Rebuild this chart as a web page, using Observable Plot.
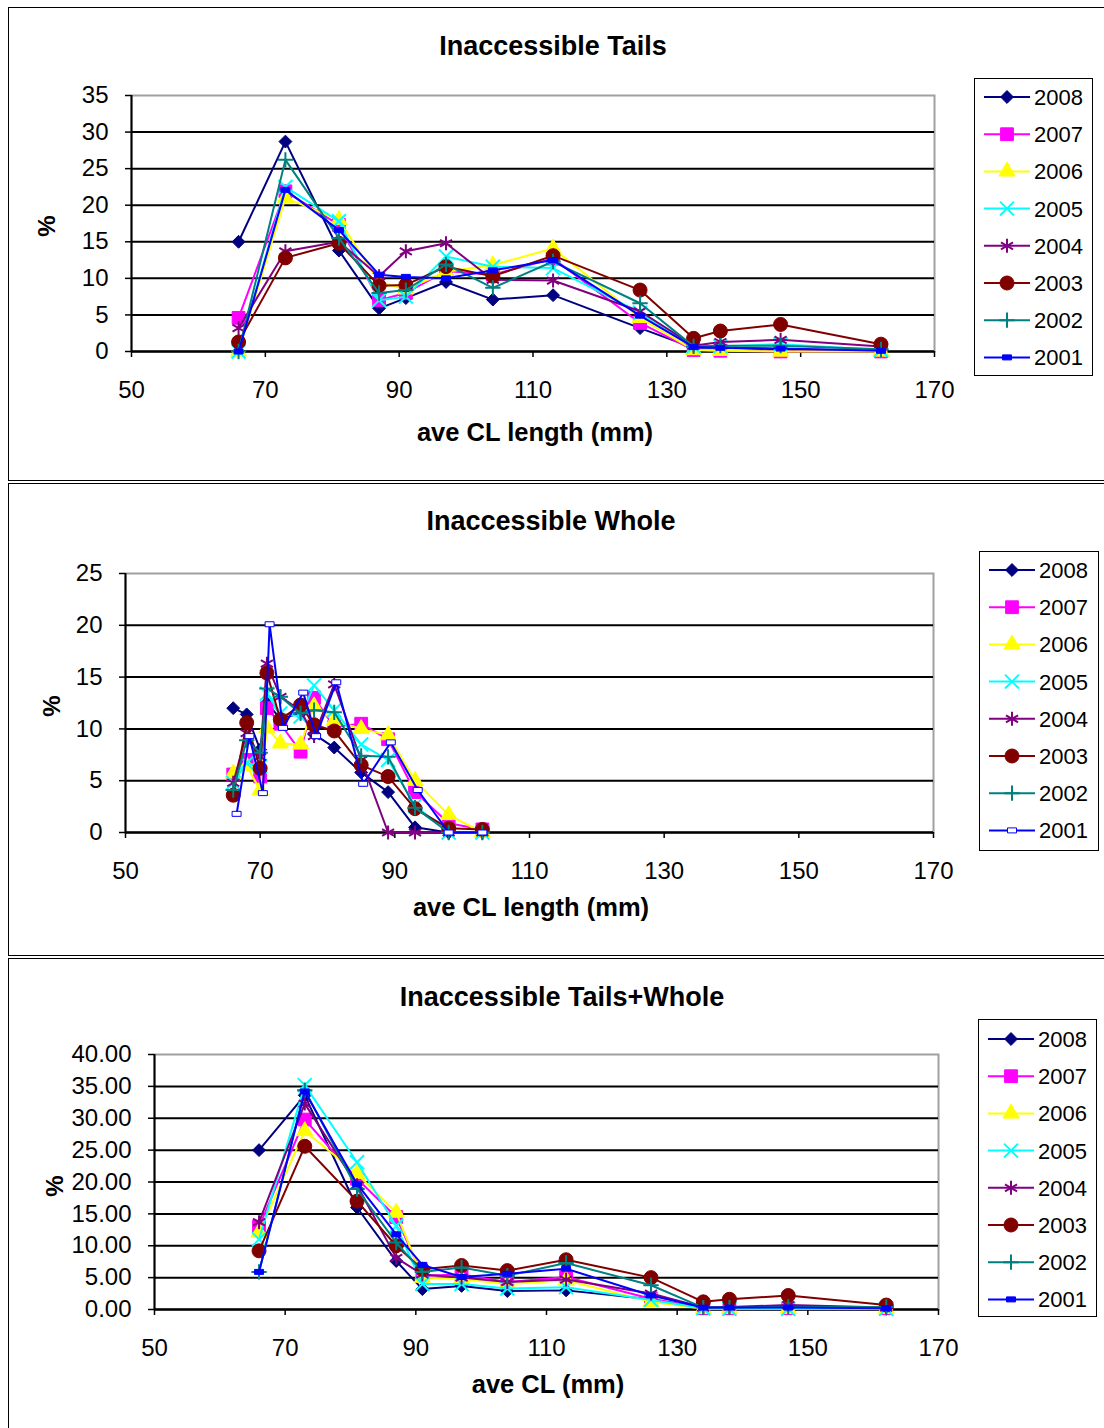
<!DOCTYPE html>
<html>
<head>
<meta charset="utf-8">
<script src="https://cdn.jsdelivr.net/npm/d3@7"></script>
<script src="https://cdn.jsdelivr.net/npm/@observablehq/plot@0.6"></script>
<style>
  body { margin: 0; background: #fff; font-family: "Liberation Sans", Arial, sans-serif; color: #000; }
  #page { position: relative; width: 1104px; height: 1428px; overflow: hidden; background: #fff; }
  .panel { position: absolute; left: 8px; width: 1110px; border: 1.5px solid #000; box-sizing: border-box; }
  .txt { position: absolute; white-space: nowrap; line-height: 1; transform: translate(-50%, -50%); font-weight: bold; }
  .title { font-size: 27px; }
  .xlab { font-size: 25.5px; }
  .ylab { font-size: 24px; transform: translate(-50%, -50%) rotate(-90deg); }
  .plot { position: absolute; left: 0; }
  .legend { position: absolute; border: 1.5px solid #000; background: #fff; box-sizing: border-box; }
</style>
</head>
<body>
<div id="page"></div>
<script>
// ---------------- data ----------------
const years = ["2008", "2007", "2006", "2005", "2004", "2003", "2002", "2001"];
const colors = ["#000080", "#FF00FF", "#FFFF00", "#00FFFF", "#800080", "#800000", "#008080", "#0000FF"];
const xTicks = [50, 70, 90, 110, 130, 150, 170];

// Panel 1: Inaccessible Tails
const tailsX = [66, 73, 81, 87, 91, 97, 104, 113, 126, 134, 138, 147, 162];
const tails2008 = [15.0, 28.7, 13.8, 5.9, 7.3, 9.5, 7.1, 7.7, 3.2, 0.5, 0.5, 0.3, 0.1];
const tails2007 = [4.6, 21.9, 17.3, 7.0, 8.0, 11.0, 10.5, 12.7, 3.9, 0.2, 0.1, 0.0, 0.0];
const tails2006 = [0.0, 21.0, 18.0, 9.5, 8.5, 10.9, 11.8, 14.1, 4.6, 0.2, 0.1, 0.0, 0.0];
const tails2005 = [0.0, 22.5, 17.8, 7.0, 7.5, 13.0, 11.6, 11.4, 5.3, 0.7, 0.7, 1.0, 0.2];
const tails2004 = [3.2, 13.7, 15.0, 10.3, 13.7, 14.8, 9.8, 9.7, 5.5, 0.8, 1.3, 1.6, 0.7];
const tails2003 = [1.3, 12.8, 14.8, 9.0, 9.1, 11.6, 10.3, 13.1, 8.4, 1.8, 2.8, 3.7, 1.0];
const tails2002 = [0.0, 26.2, 15.5, 8.0, 8.4, 11.9, 8.7, 12.3, 6.6, 0.7, 0.8, 0.8, 0.3];
const tails2001 = [0.0, 22.1, 16.6, 10.5, 10.2, 10.0, 11.1, 12.5, 4.9, 0.6, 0.5, 0.4, 0.1];

// Panel 2: Inaccessible Whole
const wholeX = [66, 68, 70, 71, 73, 76, 78, 81, 85, 89, 93, 98, 103];
const whole2001X = [66.5, 68.4, 70.4, 71.4, 73.4, 76.4, 78.3, 81.3, 85.3, 89.4, 93.4, 98, 103];
const whole2008 = [12.0, 11.4, 8.0, 12.5, 11.0, 11.5, 9.5, 8.2, 5.8, 3.9, 0.5, 0.0, 0.0];
const whole2007 = [5.6, 7.0, 5.4, 12.0, 10.5, 7.8, 13.0, 10.2, 10.5, 9.0, 3.9, 0.9, 0.3];
const whole2006 = [5.7, 6.4, 4.1, 10.1, 8.6, 8.5, 12.2, 10.8, 10.0, 9.4, 5.0, 1.7, 0.0];
const whole2005 = [4.8, 6.7, 6.4, 13.4, 11.5, 11.2, 14.2, 11.8, 8.5, 7.0, 2.6, 0.0, 0.0];
const whole2004 = [4.8, 9.6, 7.3, 16.3, 13.1, 11.8, 9.3, 14.3, 7.0, 0.0, 0.0, 0.0, 0.0];
const whole2003 = [3.6, 10.6, 6.2, 15.4, 10.9, 12.3, 10.4, 9.8, 6.5, 5.4, 2.3, 0.4, 0.3];
const whole2002 = [4.1, 8.9, 7.7, 13.9, 13.1, 11.5, 11.8, 11.6, 7.4, 7.3, 2.4, 0.0, 0.0];
const whole2001 = [1.8, 9.3, 3.8, 20.1, 10.1, 13.5, 9.3, 14.5, 4.7, 8.7, 4.1, 0.0, 0.0];

// Panel 3: Inaccessible Tails+Whole
const bothX = [66, 73, 81, 87, 91, 97, 104, 113, 126, 134, 138, 147, 162];
const both2008 = [25.0, 33.6, 16.0, 7.6, 3.2, 3.7, 2.9, 3.0, 1.6, 0.2, 0.2, 0.2, 0.1];
const both2007 = [13.0, 29.8, 20.5, 14.5, 5.3, 5.5, 4.3, 5.1, 1.7, 0.2, 0.2, 0.2, 0.2];
const both2006 = [12.1, 28.0, 21.3, 15.2, 5.0, 4.8, 4.0, 4.6, 1.2, 0.1, 0.1, 0.1, 0.1];
const both2005 = [11.0, 35.2, 23.1, 13.1, 4.0, 4.0, 3.3, 3.5, 1.5, 0.2, 0.1, 0.1, 0.1];
const both2004 = [13.7, 32.3, 19.5, 8.1, 5.5, 5.0, 4.3, 4.7, 2.5, 0.3, 0.4, 0.7, 0.3];
const both2003 = [9.2, 25.6, 17.0, 10.0, 6.3, 6.9, 6.1, 7.8, 5.0, 1.2, 1.6, 2.2, 0.7];
const both2002 = [5.9, 34.4, 18.9, 10.5, 5.9, 6.6, 5.3, 7.3, 3.8, 0.3, 0.3, 0.4, 0.4];
const both2001 = [5.9, 34.2, 19.7, 11.8, 7.0, 5.1, 5.6, 6.4, 2.2, 0.3, 0.3, 0.3, 0.2];

// ---------------- symbols ----------------
const smallRect = { draw(ctx) { ctx.moveTo(-4.5, -2.5); ctx.lineTo(4.5, -2.5); ctx.lineTo(4.5, 2.5); ctx.lineTo(-4.5, 2.5); ctx.closePath(); } };
const markerDefs = [
  { symbol: d3.symbolDiamond2, r: 5.8, fill: true },
  { symbol: d3.symbolSquare, r: 7.2, fill: true },
  { symbol: d3.symbolTriangle, r: 6.0, fill: true },
  { symbol: d3.symbolTimes, r: 6.4, fill: false },
  { symbol: d3.symbolAsterisk, r: 6.6, fill: false },
  { symbol: d3.symbolCircle, r: 7.0, fill: true },
  { symbol: d3.symbolPlus, r: 5.0, fill: false },
  { symbol: smallRect, r: 3, fill: true }
];

function buildRows(xs, seriesList, xs2001) {
  const rows = [];
  seriesList.forEach((vals, i) => {
    const xx = (i === 7 && xs2001) ? xs2001 : xs;
    vals.forEach((v, j) => rows.push({ year: years[i], x: xx[j], y: v }));
  });
  return rows;
}

const page = document.getElementById("page");

function addText(cls, text, x, y) {
  const d = document.createElement("div");
  d.className = "txt " + cls;
  d.textContent = text;
  d.style.left = x + "px";
  d.style.top = y + "px";
  page.appendChild(d);
}

function makePanel(cfg) {
  const panel = document.createElement("div");
  panel.className = "panel";
  panel.style.top = cfg.panelTop + "px";
  panel.style.height = cfg.panelHeight + "px";
  page.appendChild(panel);

  const rows = buildRows(cfg.xs, cfg.series, cfg.xs2001);
  const marks = [
    Plot.frame({ stroke: "#a0a0a0", strokeWidth: 2 }),
    Plot.gridY(cfg.yTicks.filter(t => t > 0 && t < cfg.yMax), { stroke: "#000", strokeOpacity: 1, strokeWidth: 2 }),
    Plot.axisX(xTicks, { tickSize: 6, tickPadding: 23, fontSize: 24, stroke: "#000", strokeWidth: 1.5, label: null }),
    Plot.axisY(cfg.yTicks, { tickSize: 6, tickPadding: 17, fontSize: 24, stroke: "#000", strokeWidth: 1.5, tickFormat: cfg.fmt, label: null }),
    Plot.ruleX([50], { stroke: "#000", strokeWidth: 2 }),
    Plot.ruleY([0], { stroke: "#000", strokeWidth: 2.5 })
  ];
  years.forEach((yr, i) => {
    const data = rows.filter(r => r.year === yr);
    const m = markerDefs[i];
    marks.push(Plot.line(data, { x: "x", y: "y", stroke: colors[i], strokeWidth: 2 }));
    let fill = m.fill ? colors[i] : "none";
    if (i === 7 && cfg.hollowRect) fill = "#fff";
    marks.push(Plot.dot(data, { x: "x", y: "y", symbol: m.symbol, r: m.r, fill, stroke: colors[i], strokeWidth: m.fill ? 1 : 2 }));
  });

  const svg = Plot.plot({
    width: 1104,
    height: cfg.height,
    marginLeft: cfg.left,
    marginRight: 1104 - cfg.right,
    marginTop: cfg.top - cfg.svgTop,
    marginBottom: cfg.svgTop + cfg.height - cfg.bottom,
    x: { domain: [50, 170] },
    y: { domain: [0, cfg.yMax] },
    style: { fontFamily: "'Liberation Sans', Arial, sans-serif", fontSize: "24px", color: "#000", background: "transparent", overflow: "visible" },
    marks
  });
  svg.classList.add("plot");
  svg.style.top = cfg.svgTop + "px";
  page.appendChild(svg);

  addText("title", cfg.title, cfg.titleX, cfg.titleY);
  addText("xlab", cfg.xlabel, cfg.xlabX, cfg.xlabY);
  addText("ylab", "%", cfg.ylabX, cfg.ylabY);

  // legend
  const lg = document.createElement("div");
  lg.className = "legend";
  lg.style.left = cfg.legend.x + "px";
  lg.style.top = cfg.legend.y + "px";
  lg.style.width = cfg.legend.w + "px";
  lg.style.height = cfg.legend.h + "px";
  page.appendChild(lg);
  const ls = d3.select(lg).append("svg").attr("width", cfg.legend.w - 3).attr("height", cfg.legend.h - 3)
    .style("display", "block").style("font-family", "'Liberation Sans', Arial, sans-serif");
  years.forEach((yr, i) => {
    const cy = cfg.legend.row0 + i * cfg.legend.step;
    const g = ls.append("g").attr("transform", `translate(0,${cy})`);
    g.append("line").attr("x1", 9).attr("x2", 55).attr("y1", 0).attr("y2", 0).attr("stroke", colors[i]).attr("stroke-width", 2);
    const m = markerDefs[i];
    let fill = m.fill ? colors[i] : "none";
    if (i === 7 && cfg.hollowRect) fill = "#fff";
    g.append("path").attr("transform", "translate(32,0)")
      .attr("d", d3.symbol(m.symbol, Math.PI * m.r * m.r)())
      .attr("fill", fill).attr("stroke", colors[i]).attr("stroke-width", m.fill ? 1 : 2);
    g.append("text").attr("x", 59).attr("y", 0).attr("dy", "0.36em").attr("font-size", 22).attr("fill", "#000").text(yr);
  });
}

makePanel({
  panelTop: 7, panelHeight: 474,
  svgTop: 60, height: 420, left: 131, right: 934, top: 95, bottom: 351,
  xs: tailsX, series: [tails2008, tails2007, tails2006, tails2005, tails2004, tails2003, tails2002, tails2001],
  yMax: 35, yTicks: [0, 5, 10, 15, 20, 25, 30, 35], fmt: d3.format("d"),
  title: "Inaccessible Tails", titleX: 553, titleY: 46,
  xlabel: "ave CL length (mm)", xlabX: 535, xlabY: 433, ylabX: 47, ylabY: 226,
  legend: { x: 974, y: 78, w: 119, h: 298, row0: 18, step: 37.2 }
});

makePanel({
  panelTop: 483, panelHeight: 473,
  svgTop: 540, height: 410, left: 125, right: 933, top: 573, bottom: 832,
  xs: wholeX, xs2001: whole2001X, hollowRect: true,
  series: [whole2008, whole2007, whole2006, whole2005, whole2004, whole2003, whole2002, whole2001],
  yMax: 25, yTicks: [0, 5, 10, 15, 20, 25], fmt: d3.format("d"),
  title: "Inaccessible Whole", titleX: 551, titleY: 521,
  xlabel: "ave CL length (mm)", xlabX: 531, xlabY: 908, ylabX: 52, ylabY: 706,
  legend: { x: 979, y: 551, w: 120, h: 300, row0: 18, step: 37.2 }
});

makePanel({
  panelTop: 958, panelHeight: 480,
  svgTop: 1020, height: 400, left: 154, right: 938, top: 1054, bottom: 1309,
  xs: bothX, series: [both2008, both2007, both2006, both2005, both2004, both2003, both2002, both2001],
  yMax: 40, yTicks: [0, 5, 10, 15, 20, 25, 30, 35, 40], fmt: d3.format(".2f"),
  title: "Inaccessible Tails+Whole", titleX: 562, titleY: 997,
  xlabel: "ave CL (mm)", xlabX: 548, xlabY: 1385, ylabX: 55, ylabY: 1186,
  legend: { x: 978, y: 1019, w: 119, h: 298, row0: 19, step: 37.2 }
});
</script>
</body>
</html>
